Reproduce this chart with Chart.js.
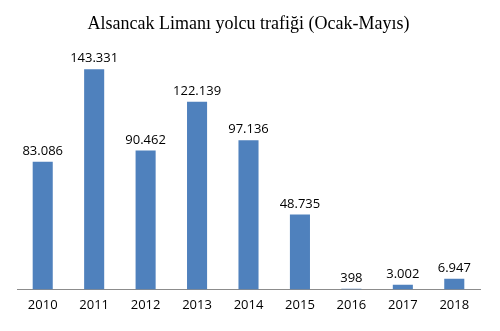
<!DOCTYPE html>
<html>
<head>
<meta charset="utf-8">
<script src="https://cdn.jsdelivr.net/npm/chart.js@4"></script>
<style>
  html, body { margin: 0; padding: 0; background: #fff; }
  #wrap { width: 500px; height: 331px; }
</style>
</head>
<body>
<div id="wrap"><canvas id="portChart" width="500" height="331"></canvas></div>
<script>
// Alsancak Limanı yolcu trafiği, Ocak-Mayıs
const years = ['2010', '2011', '2012', '2013', '2014', '2015', '2016', '2017', '2018'];
const passengers = [83086, 143331, 90462, 122139, 97136, 48735, 398, 3002, 6947];
const chartTitle = 'Alsancak Limanı yolcu trafiği (Ocak-Mayıs)';

// Turkish style thousands separator
function formatTr(v) {
    return String(v).replace(/\B(?=(\d{3})+(?!\d))/g, '.');
}

// Draw value labels above each bar
const valueLabels = {
    id: 'valueLabels',
    afterDatasetsDraw(chart) {
        const ctx = chart.ctx;
        const meta = chart.getDatasetMeta(0);
        ctx.save();
        ctx.font = '13px "Open Sans", sans-serif';
        ctx.fillStyle = '#000';
        ctx.textAlign = 'center';
        ctx.textBaseline = 'bottom';
        meta.data.forEach((bar, i) => {
            ctx.fillText(formatTr(passengers[i]), bar.x, bar.y - 4);
        });
        ctx.restore();
    }
};

new Chart(document.getElementById('portChart'), {
    type: 'bar',
    data: {
        labels: years,
        datasets: [{
            data: passengers,
            backgroundColor: '#4F81BD',
            categoryPercentage: 1,
            barPercentage: 0.39
        }]
    },
    options: {
        responsive: false,
        animation: false,
        layout: { padding: { left: 17, right: 20, top: 0, bottom: 10 } },
        plugins: {
            legend: { display: false },
            tooltip: { enabled: false },
            title: {
                display: true,
                text: chartTitle,
                color: '#000',
                font: { family: '"Liberation Serif", "DejaVu Serif", serif', size: 18, weight: 'normal' },
                padding: { top: 13, bottom: 9 }
            }
        },
        scales: {
            x: {
                grid: { display: false, drawTicks: false },
                border: { display: true, color: '#8c8c8c', width: 1 },
                ticks: {
                    color: '#000',
                    padding: 8,
                    font: { family: '"Open Sans", sans-serif', size: 13 }
                }
            },
            y: {
                display: false,
                min: 0,
                max: 160000
            }
        }
    },
    plugins: [valueLabels]
});
</script>
</body>
</html>
